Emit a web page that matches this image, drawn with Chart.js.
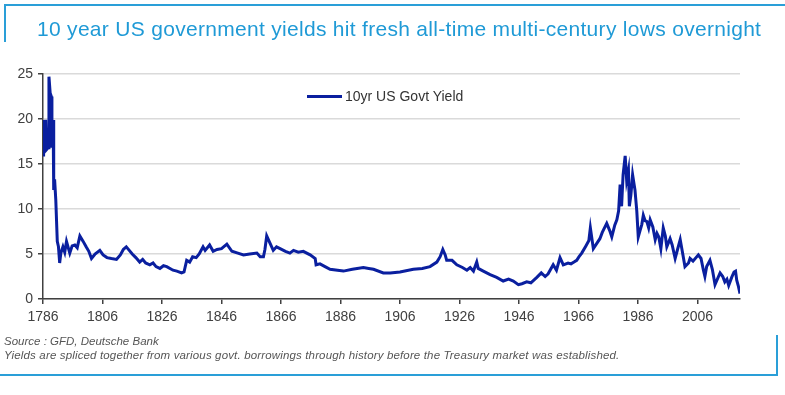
<!DOCTYPE html>
<html>
<head>
<meta charset="utf-8">
<script src="https://cdn.jsdelivr.net/npm/chart.js@4.4.0/dist/chart.umd.min.js"></script>
<style>
  body { margin: 0; background: #fff; font-family: "Liberation Sans", Arial, sans-serif; }
  #wrap { position: relative; width: 785px; height: 395px; overflow: hidden; }
  #grafica { position: absolute; left: 0; top: 0; }
  .linea { position: absolute; background: #2a9fd8; }
  #titulo { position: absolute; left: 37px; top: 17px; font-size: 21px; letter-spacing: 0.3px; color: #1f9ad6; white-space: nowrap; }
  #leyenda { position: absolute; left: 307px; top: 88px; font-size: 14px; color: #333; white-space: nowrap; }
  #leyenda span.muestra { display: inline-block; width: 35px; height: 3px; background: #0a1f9f; vertical-align: middle; margin-right: 3px; position: relative; top: -1px; }
  .fuente { position: absolute; left: 4px; font-size: 11.5px; font-style: italic; color: #555; white-space: nowrap; }
</style>
</head>
<body>
<div id="wrap">
  <canvas id="grafica" width="785" height="395"></canvas>
  <div class="linea" style="left:5px;top:4px;width:780px;height:2px;"></div>
  <div class="linea" style="left:4px;top:4px;width:2px;height:38px;"></div>
  <div class="linea" style="left:776px;top:335px;width:2px;height:41px;"></div>
  <div class="linea" style="left:0px;top:374px;width:778px;height:2px;"></div>
  <div id="titulo">10 year US government yields hit fresh all-time multi-century lows overnight</div>
  <div id="leyenda"><span class="muestra"></span><span id="nombreSerie"></span></div>
  <div class="fuente" style="top:335px;">Source : GFD, Deutsche Bank</div>
  <div class="fuente" style="top:349px;letter-spacing:0.15px;">Yields are spliced together from various govt. borrowings through history before the Treasury market was established.</div>
</div>
<script>
const serieNombre = '10yr US Govt Yield';
const anios = [
  1786.0, 1786.2, 1786.5, 1786.9, 1787.2, 1787.7, 1788.0, 1788.4, 1788.8, 1789.0,
  1789.4, 1789.6, 1789.9, 1790.3, 1790.8, 1791.2, 1791.6, 1792.0, 1792.7, 1793.3,
  1793.9, 1795.0, 1795.8, 1796.7, 1797.5, 1798.4, 1799.5, 1800.5, 1801.4, 1802.3,
  1803.5, 1805.1, 1806.2, 1807.5, 1809.0, 1810.7, 1812.0, 1813.0, 1814.0, 1815.0,
  1816.0, 1817.2, 1818.5, 1819.5, 1820.5, 1821.9, 1823.0, 1824.0, 1825.3, 1826.5,
  1827.6, 1829.7, 1831.0, 1832.6, 1833.4, 1834.3, 1835.3, 1836.3, 1837.5, 1838.5,
  1839.8, 1840.5, 1842.0, 1843.2, 1844.5, 1846.0, 1847.8, 1849.5, 1851.5, 1853.4,
  1855.5, 1857.9, 1859.0, 1860.1, 1860.6, 1861.2, 1862.3, 1863.4, 1864.5, 1865.7,
  1867.5, 1869.0, 1870.2, 1871.8, 1873.5, 1875.8, 1877.5, 1877.8, 1879.1, 1880.8,
  1882.5, 1885.0, 1887.0, 1890.0, 1893.7, 1895.5, 1897.1, 1900.4, 1902.7, 1906.0,
  1910.5, 1913.5, 1916.1, 1918.4, 1919.5, 1920.4, 1921.2, 1921.7, 1923.5, 1925.1,
  1927.0, 1928.5, 1929.6, 1930.7, 1931.8, 1932.3, 1934.0, 1936.3, 1938.5, 1940.7,
  1942.5, 1944.1, 1945.8, 1947.0, 1948.6, 1950.0, 1952.0, 1953.5, 1954.8, 1955.8,
  1957.5, 1958.6, 1959.8, 1960.9, 1962.5, 1963.5, 1964.5, 1965.4, 1966.2, 1967.1,
  1968.5, 1969.5, 1970.0, 1971.0, 1972.0, 1973.2, 1974.0, 1975.5, 1976.5, 1977.2,
  1978.2, 1978.9, 1979.5, 1980.0, 1980.5, 1981.0, 1981.7, 1982.2, 1982.8, 1983.1,
  1983.6, 1984.2, 1985.0, 1985.6, 1986.1, 1986.7, 1987.3, 1987.8, 1988.4, 1989.0,
  1989.6, 1990.1, 1991.0, 1991.8, 1992.4, 1993.0, 1993.7, 1994.5, 1995.2, 1995.7,
  1996.8, 1997.5, 1998.5, 1999.3, 2000.2, 2001.0, 2001.8, 2003.0, 2003.5, 2004.5,
  2006.3, 2007.2, 2008.0, 2008.5, 2009.1, 2010.2, 2011.0, 2011.9, 2013.6, 2014.5,
  2015.2, 2015.9, 2016.5, 2017.5, 2018.3, 2018.8, 2019.2, 2019.7, 2020.3
];
const rendimientos = [
  16.0, 19.9, 16.4, 19.9, 16.6, 16.8, 24.7, 22.9, 22.5, 16.8,
  19.9, 12.1, 13.3, 11.0, 6.4, 5.8, 4.0, 5.1, 5.8, 5.2,
  6.4, 5.1, 5.9, 6.0, 5.7, 7.0, 6.4, 5.8, 5.3, 4.5,
  5.0, 5.4, 4.9, 4.6, 4.5, 4.4, 4.9, 5.5, 5.8, 5.4,
  5.0, 4.6, 4.1, 4.4, 4.0, 3.8, 4.0, 3.6, 3.4, 3.7,
  3.6, 3.2, 3.1, 2.9, 3.0, 4.3, 4.1, 4.7, 4.6, 5.0,
  5.8, 5.4, 6.0, 5.3, 5.5, 5.6, 6.1, 5.3, 5.1, 4.9,
  5.0, 5.1, 4.7, 4.7, 5.5, 7.0, 6.2, 5.4, 5.8, 5.6,
  5.3, 5.1, 5.4, 5.2, 5.3, 4.9, 4.5, 3.8, 3.9, 3.6,
  3.3, 3.2, 3.1, 3.3, 3.5, 3.4, 3.3, 2.9, 2.9, 3.0,
  3.3, 3.4, 3.6, 4.1, 4.7, 5.5, 4.9, 4.3, 4.3, 3.8,
  3.5, 3.2, 3.5, 3.1, 4.1, 3.4, 3.1, 2.7, 2.4, 2.0,
  2.2, 2.0, 1.6, 1.7, 1.9, 1.8, 2.4, 2.9, 2.5, 2.8,
  3.8, 3.2, 4.6, 3.8, 4.0, 3.9, 4.1, 4.3, 4.7, 5.1,
  5.9, 6.5, 7.9, 5.6, 6.1, 6.7, 7.4, 8.4, 7.6, 6.9,
  8.2, 8.8, 9.8, 12.7, 10.3, 13.8, 15.9, 13.2, 14.3, 10.3,
  11.5, 13.8, 12.1, 9.8, 6.9, 7.6, 8.3, 9.3, 8.7, 8.6,
  7.9, 8.8, 8.0, 6.6, 7.3, 6.9, 5.6, 7.9, 7.0, 5.8,
  6.7, 6.0, 4.5, 5.5, 6.6, 5.1, 3.6, 4.0, 4.5, 4.2,
  4.9, 4.5, 3.2, 2.5, 3.6, 4.3, 3.3, 1.6, 2.9, 2.5,
  1.9, 2.2, 1.5, 2.4, 3.0, 3.1, 2.1, 1.5, 0.6
];
const etiquetasX = [1786, 1806, 1826, 1846, 1866, 1886, 1906, 1926, 1946, 1966, 1986, 2006];
const etiquetasY = [0, 5, 10, 15, 20, 25];

document.getElementById('nombreSerie').textContent = serieNombre;

let puntos = [];
for (let i = 0; i < anios.length; i++){
    puntos.push({x: anios[i], y: rendimientos[i]});
}

const ctx = document.getElementById('grafica').getContext('2d');
const myChart = new Chart(ctx, {
    type: 'line',
    data: {
        datasets: [{
            label: serieNombre,
            data: puntos,
            borderColor: '#0a1f9f',
            borderWidth: 3,
            pointRadius: 0,
            tension: 0,
            fill: false
        }]
    },
    options: {
        responsive: false,
        animation: false,
        layout: {
            padding: {top: 74, right: 45, bottom: 0, left: 0}
        },
        plugins: {
            legend: {display: false},
            tooltip: {enabled: false}
        },
        scales: {
            x: {
                type: 'linear',
                min: 1786,
                max: 2020.3,
                afterBuildTicks: function(scale){
                    scale.ticks = etiquetasX.map(v => ({value: v}));
                },
                afterFit: function(scale){
                    scale.height = 96;
                },
                ticks: {
                    autoSkip: false,
                    maxRotation: 0,
                    padding: 5,
                    color: '#404040',
                    font: {family: 'Liberation Sans', size: 14},
                    callback: v => String(v)
                },
                grid: {
                    drawOnChartArea: false,
                    tickLength: 5,
                    color: '#404040',
                    lineWidth: 1.5
                },
                border: {color: '#404040', width: 1.5}
            },
            y: {
                min: 0,
                max: 25,
                afterBuildTicks: function(scale){
                    scale.ticks = etiquetasY.map(v => ({value: v}));
                },
                afterFit: function(scale){
                    scale.width = 43;
                },
                ticks: {
                    padding: 5,
                    color: '#404040',
                    font: {family: 'Liberation Sans', size: 14}
                },
                grid: {
                    color: '#dadada',
                    lineWidth: 1.5,
                    tickLength: 5,
                    tickColor: '#404040'
                },
                border: {color: '#404040', width: 1.5}
            }
        }
    }
});
</script>
</body>
</html>
